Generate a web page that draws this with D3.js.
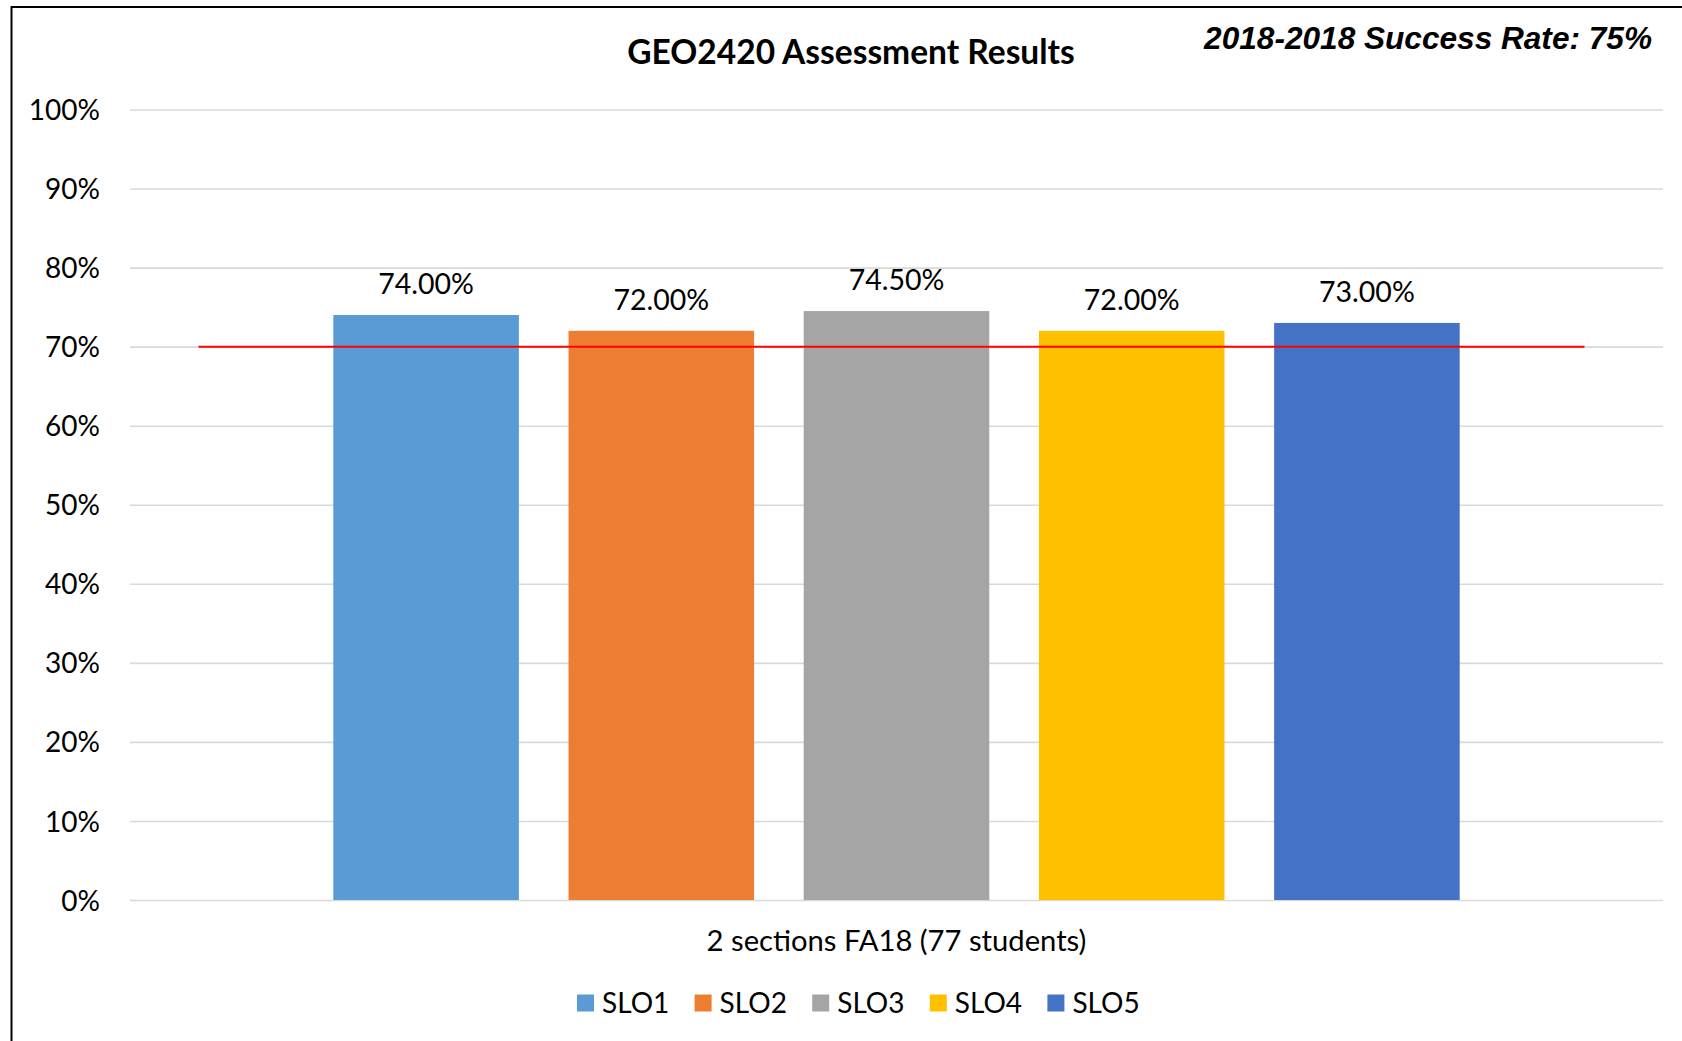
<!DOCTYPE html>
<html>
<head>
<meta charset="utf-8">
<script src="https://cdn.jsdelivr.net/npm/d3@7"></script>
<style>
  html, body { margin: 0; padding: 0; background: #fff; overflow: hidden; }
  svg { display: block; }
</style>
</head>
<body>
<svg id="chart" width="1682" height="1041"></svg>
<script>
// ---- data ----
const categories = ["2 sections FA18 (77 students)"];
const seriesNames = ["SLO1", "SLO2", "SLO3", "SLO4", "SLO5"];
const seriesValues = [0.74, 0.72, 0.745, 0.72, 0.73];
const seriesColors = ["#5B9BD5", "#ED7D31", "#A5A5A5", "#FFC000", "#4472C4"];
const yTicks = [0, 0.1, 0.2, 0.3, 0.4, 0.5, 0.6, 0.7, 0.8, 0.9, 1.0];
const targetValue = [0.70];
const titleText = "GEO2420 Assessment Results";
const noteText = "2018-2018 Success Rate: 75%";

// ---- layout ----
const W = 1682, H = 1041;
const plot = { left: 130, right: 1663, top: 109.5, bottom: 900 };
const svg = d3.select("#chart");
const FONT = "Lato, 'Open Sans', sans-serif";

// frame
svg.append("rect")
  .attr("x", 11.5).attr("y", 7).attr("width", W + 20).attr("height", H + 20)
  .attr("fill", "#fff").attr("stroke", "#000").attr("stroke-width", 2);

const y = d3.scaleLinear().domain([0, 1]).range([plot.bottom, plot.top]);
const x0 = d3.scaleBand().domain(categories).range([plot.left, plot.right])
  .paddingInner(0).paddingOuter(0.1805);
const x1 = d3.scaleBand().domain(seriesNames).range([0, x0.bandwidth()])
  .paddingInner(0.211).paddingOuter(0);
const color = d3.scaleOrdinal().domain(seriesNames).range(seriesColors);

// gridlines + y axis labels
const yAxis = d3.axisLeft(y).tickValues(yTicks)
  .tickSize(-(plot.right - plot.left)).tickPadding(30)
  .tickFormat(d3.format(".0%"));
const gy = svg.append("g").attr("transform", `translate(${plot.left},0)`).call(yAxis);
gy.select(".domain").remove();
gy.selectAll(".tick line").attr("stroke", "#D9D9D9").attr("stroke-width", 1.6);
gy.selectAll(".tick text").attr("font-family", FONT).attr("font-size", 28)
  .attr("fill", "#000").attr("dy", "0.36em");

// bars
const data = seriesNames.map((s, i) => ({ series: s, value: seriesValues[i], cat: categories[0] }));
const g = svg.append("g");
g.selectAll("rect.bar").data(data).join("rect")
  .attr("class", "bar")
  .attr("x", d => x0(d.cat) + x1(d.series))
  .attr("y", d => y(d.value))
  .attr("width", x1.bandwidth())
  .attr("height", d => y(0) - y(d.value))
  .attr("fill", d => color(d.series));

// data labels
g.selectAll("text.lbl").data(data).join("text")
  .attr("class", "lbl")
  .attr("x", d => x0(d.cat) + x1(d.series) + x1.bandwidth() / 2)
  .attr("y", d => y(d.value) - 21)
  .attr("text-anchor", "middle")
  .attr("font-family", FONT).attr("font-size", 28.5).attr("fill", "#000")
  .text(d => d3.format(".2%")(d.value));

// target line
const xt = d3.scaleLinear().domain([0, 1]).range([plot.left, plot.right]);
svg.selectAll("line.target").data(targetValue).join("line")
  .attr("class", "target")
  .attr("x1", xt(0.0447)).attr("x2", xt(0.9488))
  .attr("y1", d => y(d)).attr("y2", d => y(d))
  .attr("stroke", "#FF0000").attr("stroke-width", 2);

// category axis label
svg.selectAll("text.cat").data(categories).join("text")
  .attr("class", "cat")
  .attr("x", d => x0(d) + x0.bandwidth() / 2)
  .attr("y", 951)
  .attr("text-anchor", "middle")
  .attr("font-family", FONT).attr("font-size", 29.2).attr("fill", "#000")
  .text(d => d);

// title
svg.append("text").attr("x", 851).attr("y", 64).attr("text-anchor", "middle")
  .attr("font-family", FONT).attr("font-weight", "bold").attr("font-size", 33.5)
  .attr("fill", "#000").text(titleText);

// note top right
svg.append("text").attr("x", 1652).attr("y", 49).attr("text-anchor", "end")
  .attr("font-family", "'Liberation Sans', Arial, sans-serif")
  .attr("font-weight", "bold").attr("font-style", "italic").attr("font-size", 31.6)
  .attr("fill", "#000").text(noteText);

// legend
const legend = svg.append("g").attr("transform", "translate(577,1003)");
const items = legend.selectAll("g").data(seriesNames).join("g")
  .attr("transform", (d, i) => `translate(${i * 117.6},0)`);
items.append("rect").attr("x", 0).attr("y", -8.5).attr("width", 17).attr("height", 17)
  .attr("fill", d => color(d));
items.append("text").attr("x", 25).attr("y", 0).attr("dy", "0.36em")
  .attr("font-family", FONT).attr("font-size", 28).attr("fill", "#000")
  .text(d => d);
</script>
</body>
</html>
